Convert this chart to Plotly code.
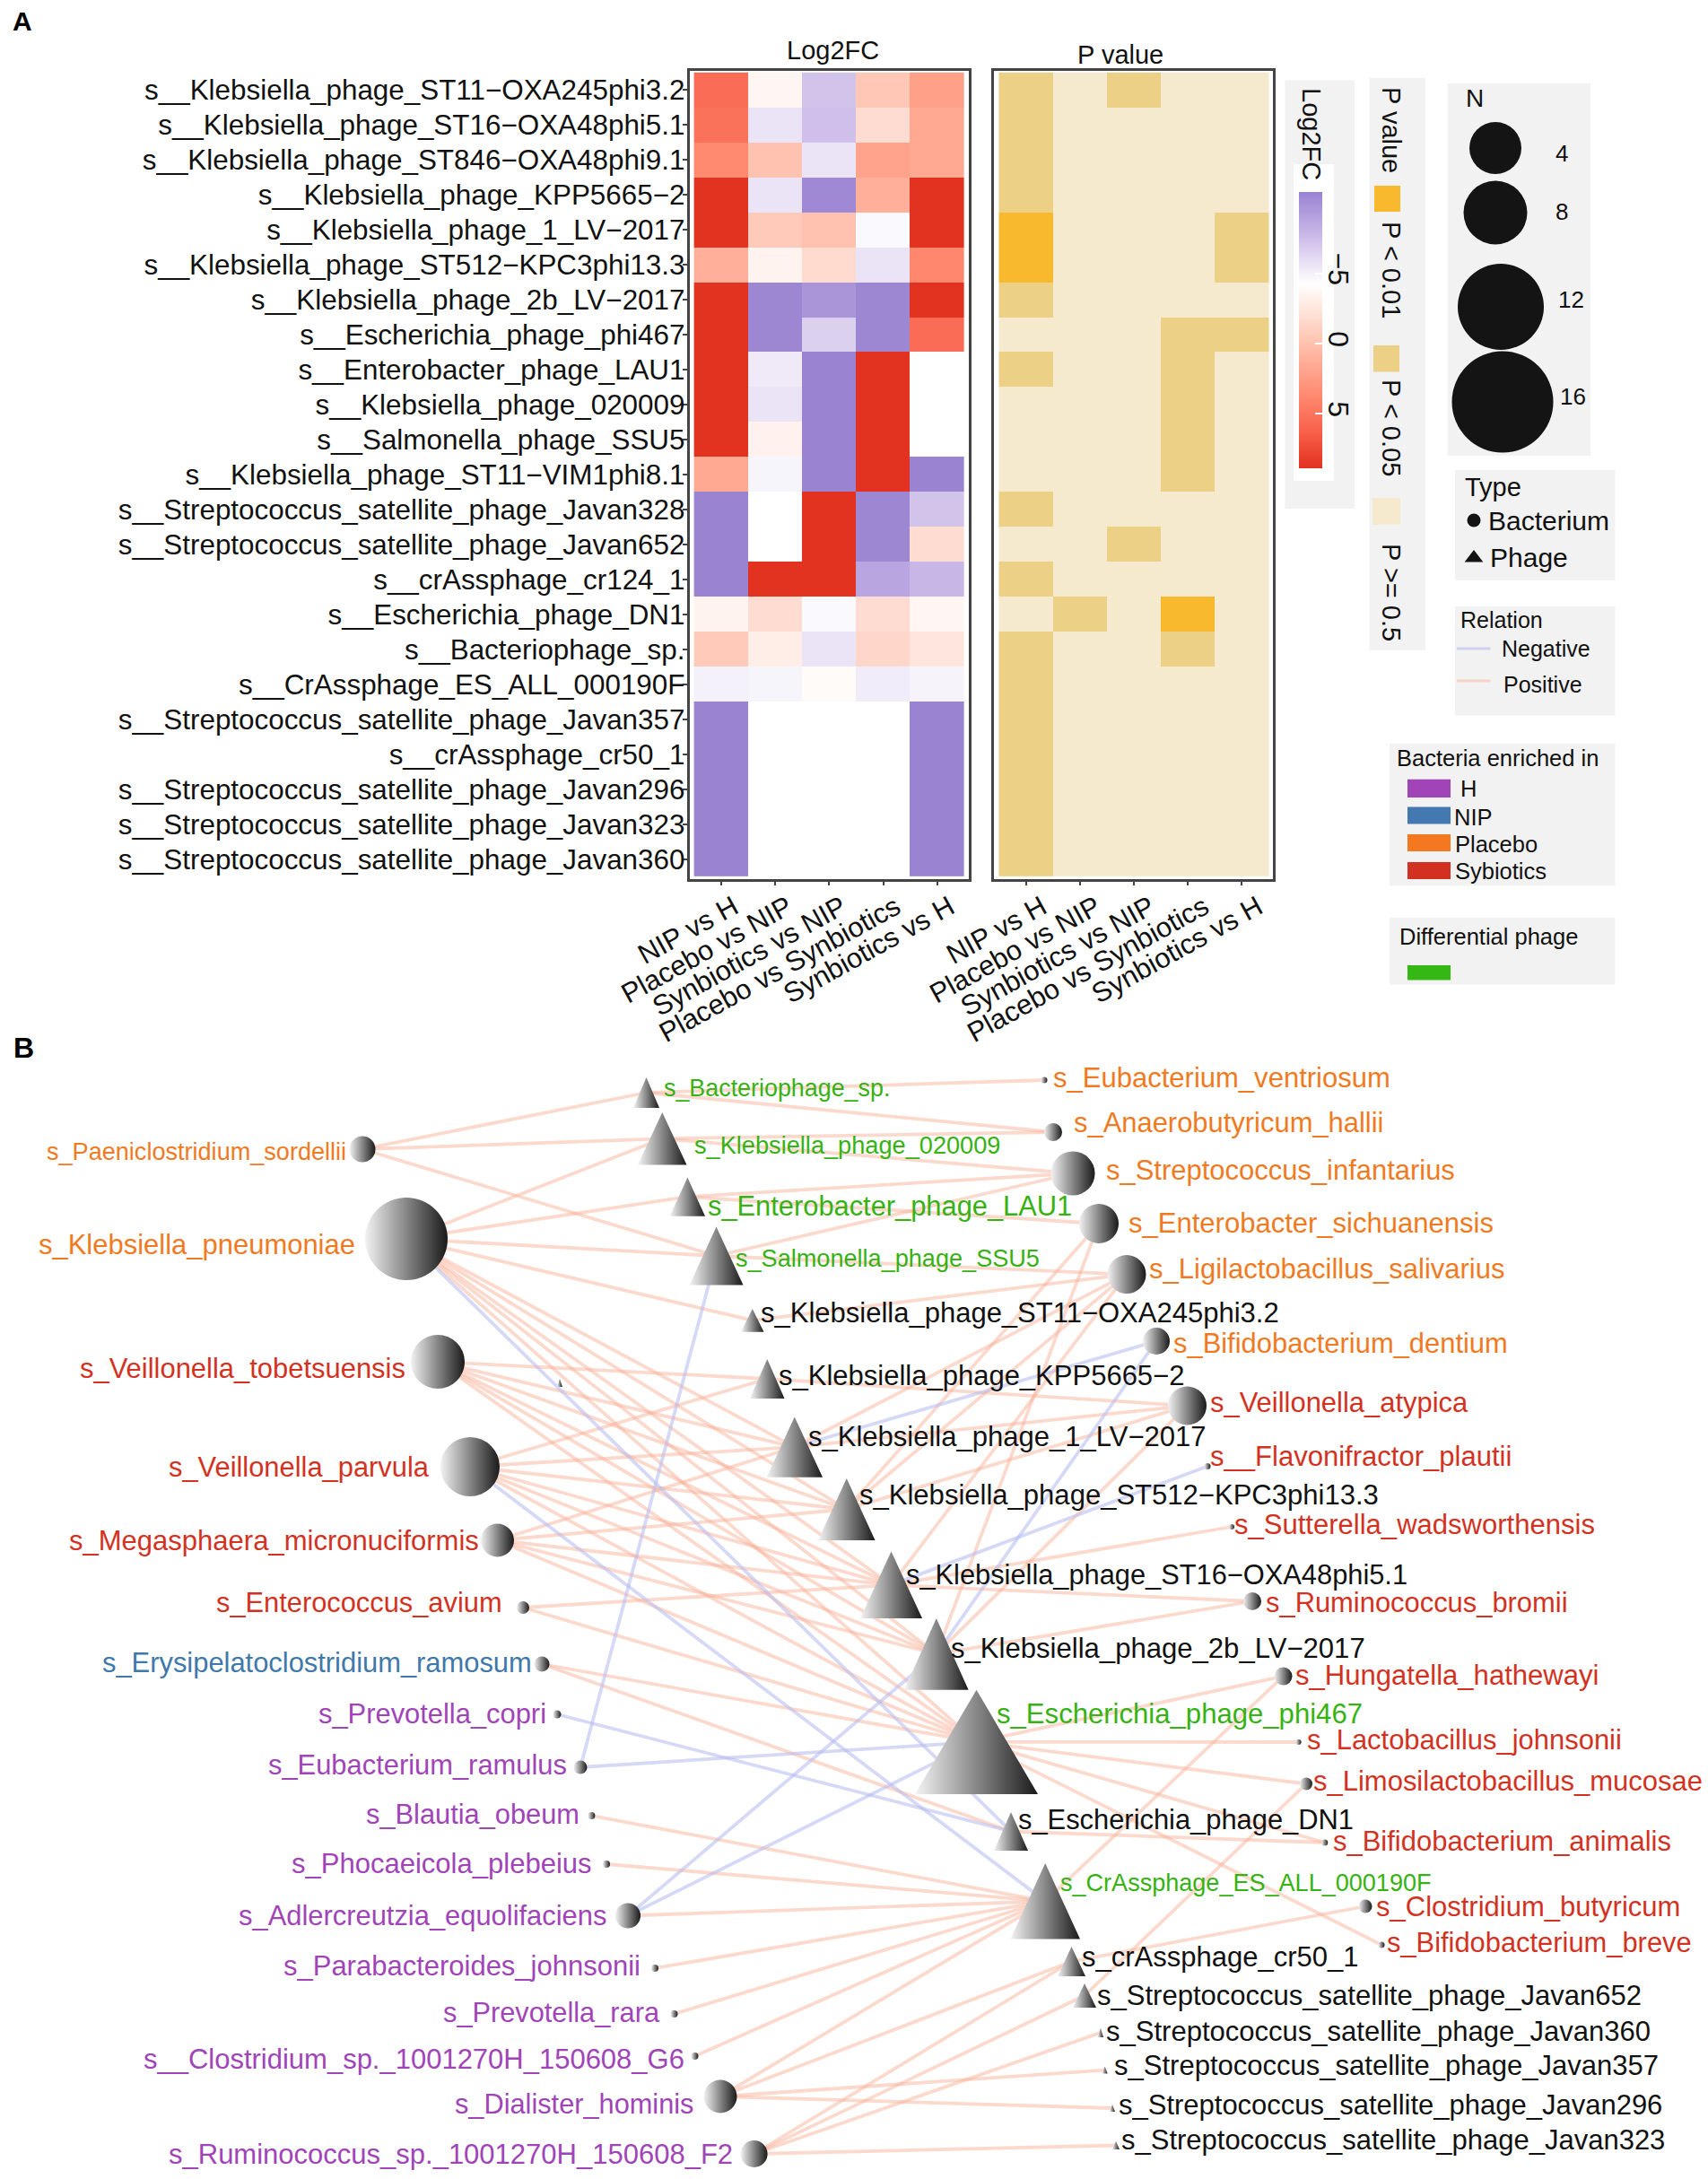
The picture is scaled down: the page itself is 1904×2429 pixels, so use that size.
import plotly.graph_objects as go

W, H = 1904, 2429
FONT = "Liberation Sans"

# ---------- panel A data ----------
phage_rows = ["s__Klebsiella_phage_ST11−OXA245phi3.2", "s__Klebsiella_phage_ST16−OXA48phi5.1",
              "s__Klebsiella_phage_ST846−OXA48phi9.1", "s__Klebsiella_phage_KPP5665−2",
              "s__Klebsiella_phage_1_LV−2017", "s__Klebsiella_phage_ST512−KPC3phi13.3",
              "s__Klebsiella_phage_2b_LV−2017", "s__Escherichia_phage_phi467",
              "s__Enterobacter_phage_LAU1", "s__Klebsiella_phage_020009", "s__Salmonella_phage_SSU5",
              "s__Klebsiella_phage_ST11−VIM1phi8.1", "s__Streptococcus_satellite_phage_Javan328",
              "s__Streptococcus_satellite_phage_Javan652", "s__crAssphage_cr124_1",
              "s__Escherichia_phage_DN1", "s__Bacteriophage_sp.", "s__CrAssphage_ES_ALL_000190F",
              "s__Streptococcus_satellite_phage_Javan357", "s__crAssphage_cr50_1",
              "s__Streptococcus_satellite_phage_Javan296", "s__Streptococcus_satellite_phage_Javan323",
              "s__Streptococcus_satellite_phage_Javan360"]
comparisons = ["NIP vs H", "Placebo vs NIP", "Synbiotics vs NIP", "Placebo vs Synbiotics", "Synbiotics vs H"]

log2fc = [
    [5.5, -3.6, -7.2, -0.4, 2.2],
    [5.1, -5.6, -7.4, -1.9, 1.6],
    [3.6, -0.1, -5.6, 2.0, 1.6],
    [8.9, -5.6, -10.5, 1.2, 8.9],
    [8.9, -0.6, -0.1, -4.6, 8.9],
    [1.2, -3.5, -1.7, -5.6, 3.8],
    [8.9, -10.6, -9.8, -10.6, 8.9],
    [8.9, -10.6, -6.6, -10.6, 5.5],
    [8.9, -5.3, -10.8, 8.9, None],
    [8.9, -5.6, -10.8, 8.9, None],
    [8.9, -3.4, -10.8, 8.9, None],
    [1.6, -4.8, -10.8, 8.9, -10.8],
    [-10.8, None, 8.9, -10.6, -7.2],
    [-10.8, None, 8.9, -10.6, -1.9],
    [-10.8, 8.9, 8.9, -8.85, -7.9],
    [-3.5, -1.9, -4.6, -1.9, -3.6],
    [-0.6, -3.1, -5.6, -1.5, -2.5],
    [-5.0, -4.8, -4.0, -5.2, -4.9],
    [-10.8, None, None, None, -10.8],
    [-10.8, None, None, None, -10.8],
    [-10.8, None, None, None, -10.8],
    [-10.8, None, None, None, -10.8],
    [-10.8, None, None, None, -10.8],
]
# 0: P >= 0.5, 1: P < 0.05, 2: P < 0.01
p_class = [
    [1, 0, 1, 0, 0], [1, 0, 0, 0, 0], [1, 0, 0, 0, 0], [1, 0, 0, 0, 0],
    [2, 0, 0, 0, 1], [2, 0, 0, 0, 1], [1, 0, 0, 0, 0], [0, 0, 0, 1, 1],
    [1, 0, 0, 1, 0], [0, 0, 0, 1, 0], [0, 0, 0, 1, 0], [0, 0, 0, 1, 0],
    [1, 0, 0, 0, 0], [0, 0, 1, 0, 0], [1, 0, 0, 0, 0], [0, 1, 0, 2, 0],
    [1, 0, 0, 1, 0], [1, 0, 0, 0, 0], [1, 0, 0, 0, 0], [1, 0, 0, 0, 0],
    [1, 0, 0, 0, 0], [1, 0, 0, 0, 0], [1, 0, 0, 0, 0],
]
# levels of the colour key, top to bottom
key_levels = [-10.8, -10, -9, -8, -7, -6, -5, -4.3, -3.5, -3, -2, -1, 0, 1, 2, 3, 4, 5, 6, 7, 8, 8.9]

# ---------- panel B data (layout coordinates of the network, page pixels) ----------
ORANGE, RED, BLUE, PURPLE, GREEN, BLACK = "#F07A22", "#D2321F", "#3F78AA", "#A044B8", "#36B212", "#111111"

bact_key = ["Paen", "Kpn", "Vtob", "Vpar", "Mega", "Eavi", "Erys", "Pcop", "Eram", "Bobe", "Pple", "Adle", "Pjoh",
            "Prar", "Csp", "Dhom", "Rsp", "Even", "Ahal", "Sinf", "Esic", "Lsal", "Bden", "Vaty", "Fpla", "Swad",
            "Rbro", "Hhat", "Ljoh", "Lmuc", "Bani", "Cbut", "Bbre"]
bact_label = ["s_Paeniclostridium_sordellii", "s_Klebsiella_pneumoniae", "s_Veillonella_tobetsuensis",
              "s_Veillonella_parvula", "s_Megasphaera_micronuciformis", "s_Enterococcus_avium",
              "s_Erysipelatoclostridium_ramosum", "s_Prevotella_copri", "s_Eubacterium_ramulus", "s_Blautia_obeum",
              "s_Phocaeicola_plebeius", "s_Adlercreutzia_equolifaciens", "s_Parabacteroides_johnsonii",
              "s_Prevotella_rara", "s__Clostridium_sp._1001270H_150608_G6", "s_Dialister_hominis",
              "s_Ruminococcus_sp._1001270H_150608_F2", "s_Eubacterium_ventriosum", "s_Anaerobutyricum_hallii",
              "s_Streptococcus_infantarius", "s_Enterobacter_sichuanensis", "s_Ligilactobacillus_salivarius",
              "s_Bifidobacterium_dentium", "s_Veillonella_atypica", "s__Flavonifractor_plautii",
              "s_Sutterella_wadsworthensis", "s_Ruminococcus_bromii", "s_Hungatella_hathewayi",
              "s_Lactobacillus_johnsonii", "s_Limosilactobacillus_mucosae", "s_Bifidobacterium_animalis",
              "s_Clostridium_butyricum", "s_Bifidobacterium_breve"]
bact_color = [ORANGE, ORANGE, RED, RED, RED, RED, BLUE] + [PURPLE] * 10 + [ORANGE] * 6 + [RED] * 10
bact_x = [404, 453, 488, 524, 554.5, 583, 604, 621, 647, 659.4, 676, 700, 730, 751.5, 774.5, 803, 840.6,
          1164, 1174, 1196, 1225, 1256, 1289, 1323.5, 1346, 1373, 1396, 1430.5, 1447.6, 1456, 1476.8, 1522, 1540]
bact_y = [1281, 1381, 1518, 1635, 1717, 1792, 1855, 1911, 1970, 2024, 2078, 2135.5, 2194, 2245, 2292, 2337, 2401,
          1204, 1262, 1308, 1364, 1420.6, 1495, 1567, 1634.5, 1702, 1785, 1868.6, 1942, 1988.5, 2054, 2125, 2168]
bact_r = [14.5, 46, 30, 33, 18.5, 7, 8.5, 4.5, 7.5, 4, 4, 14, 4, 4, 4, 18.5, 15,
          3.5, 10, 24.5, 22, 21.5, 15, 21.5, 3.5, 3, 10, 10, 3, 7, 3.5, 7.5, 3.5]
bact_text_left = [49.7, 41, 86.7, 186, 74.5, 239, 112, 353, 297, 406, 323, 264, 314, 492, 157.6, 505, 186,
                  1172, 1194.5, 1231, 1256, 1278.5, 1306, 1346.6, 1346.6, 1374, 1409, 1441.5, 1455, 1462, 1484, 1532, 1544]
bact_text_right = [384, 394, 451.5, 477.6, 531.5, 557.6, 591, 607, 630, 644, 657.6, 674.5, 712, 733, 760.6, 771.5, 815,
                   1548, 1540, 1620, 1663, 1675, 1679, 1635.5, 1683, 1776, 1745.6, 1780, 1806, 1896, 1861, 1871.5, 1883.7]
bact_text_y = [1283, 1387, 1525, 1635, 1717, 1786, 1853, 1910, 1967, 2022, 2077, 2135.5, 2191, 2243, 2295, 2345, 2401,
               1201, 1251, 1304, 1363, 1414.5, 1497, 1563, 1623.5, 1699, 1786, 1867, 1939, 1985.6, 2052, 2125, 2165]

phage_key = ["Bsp", "020009", "LAU1", "SSU5", "ST11", "KPP", "1LV", "ST512", "ST16", "2b", "phi467", "DN1", "ES",
             "cr50", "J652", "J360", "J357", "J296", "J323", "cr124"]
phage_label = ["s_Bacteriophage_sp.", "s_Klebsiella_phage_020009", "s_Enterobacter_phage_LAU1",
               "s_Salmonella_phage_SSU5", "s_Klebsiella_phage_ST11−OXA245phi3.2", "s_Klebsiella_phage_KPP5665−2",
               "s_Klebsiella_phage_1_LV−2017", "s_Klebsiella_phage_ST512−KPC3phi13.3",
               "s_Klebsiella_phage_ST16−OXA48phi5.1", "s_Klebsiella_phage_2b_LV−2017", "s_Escherichia_phage_phi467",
               "s_Escherichia_phage_DN1", "s_CrAssphage_ES_ALL_000190F", "s_crAssphage_cr50_1",
               "s_Streptococcus_satellite_phage_Javan652", "s_Streptococcus_satellite_phage_Javan360",
               "s_Streptococcus_satellite_phage_Javan357", "s_Streptococcus_satellite_phage_Javan296",
               "s_Streptococcus_satellite_phage_Javan323", ""]
phage_color = [GREEN] * 4 + [BLACK] * 6 + [GREEN, BLACK, GREEN] + [BLACK] * 7
phage_l = [706, 711, 746.7, 768.5, 826, 836, 854.5, 912, 959, 1008, 1020, 1108, 1126.4, 1179, 1196, 1223.7, 1228.6, 1237, 1240, 621]
phage_r = [735, 765.5, 786, 828.5, 851.5, 874.5, 917, 975.5, 1028, 1079.6, 1157, 1146, 1204, 1210, 1222, 1230, 1234.7, 1243, 1248, 627]
phage_t = [1201, 1240, 1312.5, 1367.5, 1459, 1515, 1579.4, 1648, 1729.6, 1804, 1883.7, 2020, 2077, 2170, 2211, 2260.7, 2303.5, 2346, 2387, 1537]
phage_b = [1235, 1298.6, 1355.7, 1432.5, 1484.7, 1559, 1646.7, 1717, 1804, 1883.7, 2000, 2063, 2161.6, 2203, 2238, 2271, 2311.6, 2354, 2396, 1546]
phage_text_left = [737.6, 771.5, 786.7, 818, 845.5, 865.5, 899, 956, 1008, 1058, 1109, 1132.5, 1180, 1204, 1220.7, 1231, 1240, 1245, 1248, 0]
phage_text_right = [990, 1113, 1193, 1157, 1425.7, 1318, 1345, 1535, 1567, 1522, 1517, 1506.6, 1593.6, 1512.6, 1828, 1838, 1847, 1851.5, 1854.5, 0]
phage_text_y = [1213, 1276.5, 1344, 1402, 1463.5, 1533.7, 1601, 1666, 1755, 1837, 1910, 2028, 2098.5, 2181, 2224, 2264.7, 2302.6, 2346, 2385.7, 0]

positive_links = {
    "Paen": ["Bsp", "020009", "SSU5"],
    "Kpn": ["020009", "LAU1", "SSU5", "ST11", "1LV", "ST512", "ST16", "2b", "phi467"],
    "Vtob": ["KPP", "1LV", "ST512", "ST16", "2b", "phi467"],
    "Vpar": ["KPP", "1LV", "ST512", "ST16", "2b", "phi467"],
    "Mega": ["1LV", "ST512", "ST16", "2b", "phi467"],
    "Eavi": ["ST16", "phi467"],
    "Erys": ["phi467", "DN1"],
    "Bobe": ["ES"], "Pple": ["ES"], "Adle": ["ES"], "Pjoh": ["ES"], "Prar": ["ES"], "Csp": ["ES"],
    "Dhom": ["ES", "cr50", "J357", "J296"],
    "Rsp": ["J323", "cr50", "J652", "J360"],
    "Even": ["Bsp"],
    "Ahal": ["Bsp", "020009"],
    "Sinf": ["020009", "LAU1", "SSU5"],
    "Esic": ["LAU1", "ST512", "2b"],
    "Lsal": ["SSU5", "ST11", "1LV", "ST512", "ST16"],
    "Vaty": ["KPP", "1LV", "ST512", "2b"],
    "Swad": ["ST16"],
    "Rbro": ["ST16", "2b"],
    "Hhat": ["phi467", "ES"],
    "Ljoh": ["phi467"],
    "Lmuc": ["phi467", "J652"],
    "Bani": ["phi467", "DN1"],
    "Cbut": ["cr50"],
    "Bbre": ["phi467"],
}
negative_links = {
    "Kpn": ["DN1"], "Vpar": ["ES"], "Pcop": ["DN1"], "Eram": ["phi467", "SSU5"], "Adle": ["phi467", "2b"],
    "Bden": ["1LV", "2b"], "Fpla": ["ST16"],
}

# ---------- legend data ----------
size_legend_n = [4, 8, 12, 16]
size_legend_x = [1667, 1667, 1673, 1675]
size_legend_y = [165, 237, 342, 448]
size_legend_d = [58, 71, 96, 113]

HELV = dict(zip("ABCDEFGHIJKLMNOPQRSTUVWXYZ",
                [667, 667, 722, 722, 667, 611, 778, 722, 278, 500, 667, 556, 833, 722, 778, 667, 778, 722, 667, 611,
                 722, 667, 944, 667, 667, 611]))
HELV.update(dict(zip("abcdefghijklmnopqrstuvwxyz",
                     [556, 556, 500, 556, 556, 278, 556, 556, 222, 222, 500, 222, 833, 556, 556, 556, 556, 333, 500,
                      278, 556, 500, 722, 500, 500, 500])))
HELV.update({" ": 278, "_": 556, "-": 333, "−": 584, ".": 278, "<": 584, ">": 584, "=": 584})
HELV.update({d: 556 for d in "0123456789"})


def fit_size(text, width):
    return width * 1000 / sum(HELV[c] for c in text)


fig = go.Figure()

# ---------- heatmaps ----------
colorscale = [[0, "#9A84D2"], [0.165, "#CDBCE9"], [0.33, "#FFFFFF"], [0.531, "#FFC6B4"], [0.732, "#FF8A70"],
              [0.866, "#F8604A"], [1, "#E23220"]]
fig.add_trace(go.Heatmap(z=log2fc, x=comparisons, y=phage_rows, xaxis="x", yaxis="y", zmin=-10.8, zmax=8.9,
                         colorscale=colorscale, hoverongaps=False, showscale=False))
fig.add_trace(go.Heatmap(z=p_class, x=comparisons, y=phage_rows, xaxis="x2", yaxis="y2", zmin=0, zmax=2,
                         showscale=False,
                         colorscale=[[0, "#F5E9CE"], [0.25, "#F5E9CE"], [0.25, "#ECD086"], [0.75, "#ECD086"],
                                     [0.75, "#F8B92E"], [1, "#F8B92E"]]))
fig.add_trace(go.Heatmap(z=[[v] for v in key_levels], x=["key"], y=key_levels, xaxis="x4", yaxis="y4", zmin=-10.8,
                         zmax=8.9, colorscale=colorscale, showscale=False, zsmooth="best", hoverinfo="skip"))

# ---------- network links ----------
bact_pos = {k: (x, y) for k, x, y in zip(bact_key, bact_x, bact_y)}
phage_pos = {k: ((l + r) / 2, (t + b) / 2)
             for k, l, r, t, b in zip(phage_key, phage_l, phage_r, phage_t, phage_b)}


def add_links(links, color):
    xs, ys = [], []
    for b, targets in links.items():
        for p in targets:
            xs += [bact_pos[b][0], phage_pos[p][0], None]
            ys += [bact_pos[b][1], phage_pos[p][1], None]
    fig.add_trace(go.Scatter(x=xs, y=ys, mode="lines", xaxis="x3", yaxis="y3", hoverinfo="skip",
                             line=dict(color=color, width=3.8), showlegend=False))


add_links(positive_links, "rgba(248,175,150,0.48)")
add_links(negative_links, "rgba(180,186,238,0.55)")

# ---------- network nodes ----------
fig.add_trace(go.Scatter(x=bact_x, y=bact_y, mode="markers", xaxis="x3", yaxis="y3", text=bact_label,
                         hoverinfo="text", showlegend=False,
                         marker=dict(symbol="circle", size=[2 * r for r in bact_r], color="#F2F2F2", line_width=0,
                                     opacity=1, gradient=dict(type="horizontal", color="#1A1A1A"))))
for lbl, l, r, t, b in zip(phage_label, phage_l, phage_r, phage_t, phage_b):
    fig.add_trace(go.Scatter(x=[l, r, (l + r) / 2, l], y=[b, b, t, b], mode="lines", xaxis="x3", yaxis="y3",
                             fill="toself", line=dict(width=0), hoverinfo="skip", showlegend=False,
                             fillgradient=dict(type="horizontal", colorscale=[[0, "#F4F4F4"], [1, "#1A1A1A"]])))

# size and type legend glyphs
fig.add_trace(go.Scatter(x=size_legend_x, y=size_legend_y, mode="markers", xaxis="x3", yaxis="y3", hoverinfo="skip",
                         showlegend=False, marker=dict(size=size_legend_d, color="#141414", line_width=0, opacity=1)))
fig.add_trace(go.Scatter(x=[1643], y=[580], mode="markers", xaxis="x3", yaxis="y3", hoverinfo="skip",
                         showlegend=False, marker=dict(size=15, color="#141414", line_width=0)))
fig.add_trace(go.Scatter(x=[1643], y=[622], mode="markers", xaxis="x3", yaxis="y3", hoverinfo="skip",
                         showlegend=False, marker=dict(symbol="triangle-up", size=18, color="#141414", line_width=0)))

ann = []


def text(t, x, y, size, color="#111111", anchor="left", angle=0, bold=False):
    ann.append(dict(text=f"<b>{t}</b>" if bold else t, x=x, y=y, xref="x3", yref="y3", xanchor=anchor, yanchor="middle",
                    showarrow=False, textangle=angle, align="left", font=dict(family=FONT, size=size, color=color)))


for lbl, l, r, y, c in zip(bact_label, bact_text_left, bact_text_right, bact_text_y, bact_color):
    text(lbl, l, y, fit_size(lbl, r - l), c)
for lbl, l, r, y, c in zip(phage_label, phage_text_left, phage_text_right, phage_text_y, phage_color):
    if lbl:
        text(lbl, l, y, fit_size(lbl, r - l), c)

# panel letters and titles
text("A", 12, 23, 30, "#000000", bold=True)
text("B", 13, 1168, 32, "#000000", bold=True)
text("Log2FC", 928, 56, 29, anchor="center")
text("P value", 1249, 61, 29, anchor="center")

# legend texts
text("Log2FC", 1462.5, 149.5, 29, anchor="center", angle=90)
text("P value", 1551, 145, 29, anchor="center", angle=90)
text("P < 0.01", 1551, 301, 29, anchor="center", angle=90)
text("P < 0.05", 1551, 477, 29, anchor="center", angle=90)
text("P >= 0.5", 1551, 660, 29, anchor="center", angle=90)
text("N", 1632, 109, 28)
for n, x, y in zip(size_legend_n, [1732, 1732, 1735, 1737], [171, 235.5, 334, 442]):
    text(str(n), x, y, 26)
text("Type", 1631, 543, 29)
text("Bacterium", 1657.4, 580, 30)
text("Phage", 1659, 621, 30)
text("Relation", 1626, 691, 25)
text("Negative", 1672, 723, 25)
text("Positive", 1673.6, 763, 25)
text("Bacteria enriched in", 1555, 844.5, 25.5)
for t, x, y in zip(["H", "NIP", "Placebo", "Sybiotics"], [1626, 1619, 1620, 1620], [879, 910.5, 940.6, 971]):
    text(t, x, y, 25.5)
text("Differential phage", 1557.7, 1044, 25.5)


def rect(x0, y0, x1, y1, color):
    return dict(type="rect", xref="x3", yref="y3", x0=x0, y0=y0, x1=x1, y1=y1, fillcolor=color, line_width=0, layer="below")


GREY = "#F2F2F2"
shapes = [
    rect(1432.5, 89.5, 1510, 567, GREY), rect(1442, 183, 1487, 536, "#FFFFFF"),
    rect(1526.5, 87, 1589, 725, GREY),
    rect(1532, 207, 1561, 236, "#F8B92E"), rect(1531, 385, 1560, 414.5, "#ECD086"), rect(1530, 555, 1561, 585, "#F5E9CE"),
    rect(1613.6, 93, 1773, 508, GREY), rect(1622, 524, 1800.5, 647, GREY), rect(1622, 676, 1800.5, 797.5, GREY),
    rect(1549, 829, 1800.5, 987.5, GREY),
    rect(1569, 868.7, 1617, 889, "#A044B8"), rect(1569, 899.5, 1617, 918.5, "#4478B0"),
    rect(1569, 930, 1617, 949, "#F47820"), rect(1569, 961, 1617, 980, "#D23020"),
    rect(1549, 1023, 1800.5, 1097.6, GREY), rect(1569, 1076, 1617, 1092.5, "#36B814"),
    dict(type="line", xref="x3", yref="y3", x0=1624, x1=1661.5, y0=723, y1=723, line=dict(color="#CDD0F0", width=3), layer="below"),
    dict(type="line", xref="x3", yref="y3", x0=1624, x1=1661.5, y0=759, y1=759, line=dict(color="#F8D2C4", width=3), layer="below"),
]

frame = dict(showline=True, mirror=True, linecolor="#444444", linewidth=2.5, ticks="outside", ticklen=5,
             tickcolor="#444444", tickwidth=2, showgrid=False, zeroline=False, type="category", fixedrange=True,
             automargin=False)
xfont = dict(family=FONT, size=31, color="#111111")

fig.update_layout(
    width=W, height=H, autosize=False, margin=dict(l=0, r=0, t=0, b=0, autoexpand=False), paper_bgcolor="white",
    plot_bgcolor="rgba(0,0,0,0)",
    showlegend=False, annotations=ann, shapes=shapes,
    xaxis=dict(domain=[768.5 / W, 1079.6 / W], range=[-0.585, 4.575], tickangle=-29, tickfont=xfont,
               ticklabelshift=14, ticklabelstandoff=-6,
               categoryorder="array", categoryarray=comparisons, anchor="y", **frame),
    yaxis=dict(domain=[1 - 979.5 / H, 1 - 78.5 / H], range=[22.56, -0.56], categoryorder="array",
               categoryarray=phage_rows, anchor="x", ticklabelstandoff=-9,
               tickfont=dict(family=FONT, size=31.4, color="#111111"), **frame),
    xaxis2=dict(domain=[1108.4 / W, 1419 / W], range=[-0.585, 4.575], tickangle=-29, tickfont=xfont,
                ticklabelshift=18, ticklabelstandoff=-6,
                categoryorder="array", categoryarray=comparisons, anchor="y2", **frame),
    yaxis2=dict(domain=[1 - 979.5 / H, 1 - 78.5 / H], range=[22.56, -0.56], categoryorder="array",
                categoryarray=phage_rows, anchor="x2", showticklabels=False,
                **{**frame, "ticks": "", "ticklen": 0}),
    xaxis3=dict(domain=[0, 1], range=[0, W], visible=False, fixedrange=True, anchor="y3", automargin=False),
    yaxis3=dict(domain=[0, 1], range=[H, 0], visible=False, fixedrange=True, anchor="x3", automargin=False),
    xaxis4=dict(domain=[1448 / W, 1474 / W], visible=False, fixedrange=True, anchor="y4", automargin=False),
    yaxis4=dict(domain=[1 - 522 / H, 1 - 214 / H], range=[8.9, -10.8], side="right", anchor="x4", fixedrange=True,
                tickmode="array", tickvals=[-5, 0, 5], ticktext=["−5", "0", "5"], tickangle=90, ticks="inside",
                ticklen=8, tickcolor="white", tickwidth=2, showline=False, showgrid=False, zeroline=False,
                automargin=False, tickfont=dict(family=FONT, size=32, color="#111111")),
)

fig.write_html("out.html", config={"displayModeBar": False},
               post_script="document.body.style.margin='0';document.documentElement.style.overflow='hidden';")
